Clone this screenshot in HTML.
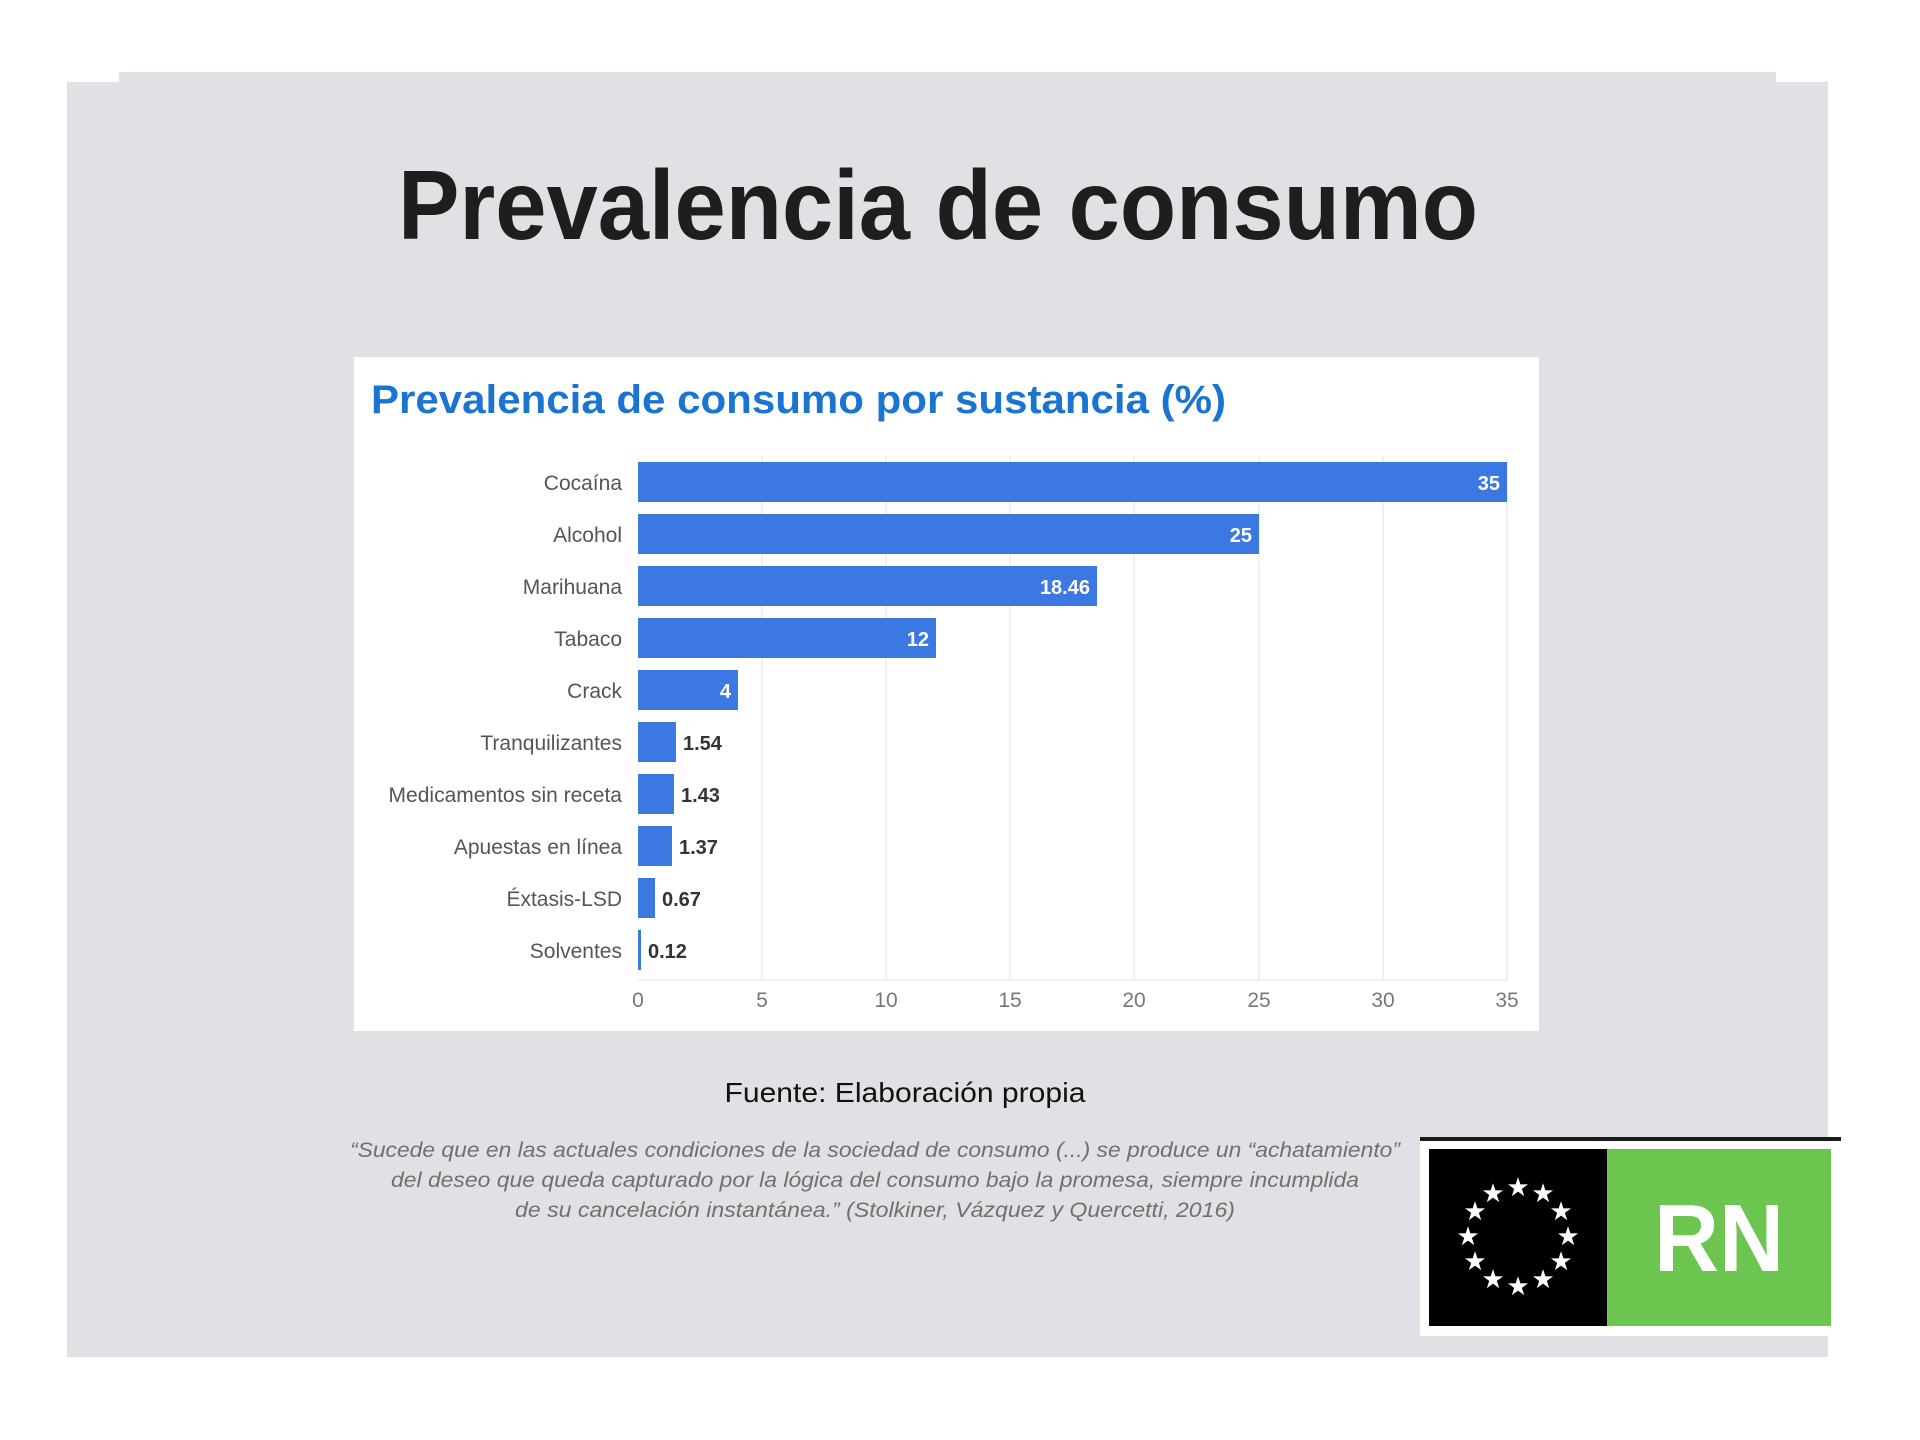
<!DOCTYPE html>
<html><head><meta charset="utf-8"><style>
html,body{margin:0;padding:0;background:#fff;}
svg{display:block;}
</style></head><body>
<svg width="1920" height="1440" viewBox="0 0 1920 1440" xmlns="http://www.w3.org/2000/svg" font-family="'Liberation Sans', sans-serif">
<rect width="1920" height="1440" fill="#fff"/>
<rect x="119" y="72" width="1657" height="14" fill="#e0e1e5"/>
<rect x="67" y="82" width="1761" height="1275" fill="#e0e1e5"/>
<text x="938" y="239" text-anchor="middle" font-size="98" font-weight="bold" fill="#1e1e1e" textLength="1080" lengthAdjust="spacingAndGlyphs">Prevalencia de consumo</text>
<rect x="354" y="357" width="1185" height="674" fill="#fff"/>
<text x="371" y="413" font-size="40" font-weight="bold" fill="#1a74d2" textLength="855" lengthAdjust="spacingAndGlyphs">Prevalencia de consumo por sustancia (%)</text>
<g stroke="#ececec" stroke-width="1.5">
<line x1="762" y1="455" x2="762" y2="980"/><line x1="886" y1="455" x2="886" y2="980"/><line x1="1010" y1="455" x2="1010" y2="980"/><line x1="1134" y1="455" x2="1134" y2="980"/><line x1="1259" y1="455" x2="1259" y2="980"/><line x1="1383" y1="455" x2="1383" y2="980"/><line x1="1507" y1="455" x2="1507" y2="980"/>
<line x1="638" y1="980" x2="1507" y2="980"/>
</g>
<g font-size="21" fill="#777" text-anchor="middle">
<text x="638" y="1007">0</text><text x="762" y="1007">5</text><text x="886" y="1007">10</text><text x="1010" y="1007">15</text><text x="1134" y="1007">20</text><text x="1259" y="1007">25</text><text x="1383" y="1007">30</text><text x="1507" y="1007">35</text>
</g>
<g fill="#3b78e1">
<rect x="638" y="462" width="869" height="40"/>
<rect x="638" y="514" width="621" height="40"/>
<rect x="638" y="566" width="459" height="40"/>
<rect x="638" y="618" width="298" height="40"/>
<rect x="638" y="670" width="100" height="40"/>
<rect x="638" y="722" width="38" height="40"/>
<rect x="638" y="774" width="36" height="40"/>
<rect x="638" y="826" width="34" height="40"/>
<rect x="638" y="878" width="17" height="40"/>
<rect x="638" y="930" width="3" height="40"/>
</g>
<g font-size="21" fill="#555" text-anchor="end">
<text x="622" y="490">Cocaína</text>
<text x="622" y="542">Alcohol</text>
<text x="622" y="594">Marihuana</text>
<text x="622" y="646">Tabaco</text>
<text x="622" y="698">Crack</text>
<text x="622" y="750">Tranquilizantes</text>
<text x="622" y="802">Medicamentos sin receta</text>
<text x="622" y="854">Apuestas en línea</text>
<text x="622" y="906">Éxtasis-LSD</text>
<text x="622" y="958">Solventes</text>
</g>
<g font-size="20" font-weight="bold" fill="#fff" text-anchor="end">
<text x="1500" y="490">35</text>
<text x="1252" y="542">25</text>
<text x="1090" y="594">18.46</text>
<text x="929" y="646">12</text>
<text x="731" y="698">4</text>
</g>
<g font-size="20" font-weight="bold" fill="#333">
<text x="683" y="750">1.54</text>
<text x="681" y="802">1.43</text>
<text x="679" y="854">1.37</text>
<text x="662" y="906">0.67</text>
<text x="648" y="958">0.12</text>
</g>
<text x="905" y="1102" text-anchor="middle" font-size="28" fill="#111" textLength="361" lengthAdjust="spacingAndGlyphs">Fuente: Elaboración propia</text>
<g font-size="21" font-style="italic" fill="#707070" text-anchor="middle">
<text x="875" y="1157" textLength="1050" lengthAdjust="spacingAndGlyphs">“Sucede que en las actuales condiciones de la sociedad de consumo (...) se produce un “achatamiento”</text>
<text x="875" y="1187" textLength="968" lengthAdjust="spacingAndGlyphs">del deseo que queda capturado por la lógica del consumo bajo la promesa, siempre incumplida</text>
<text x="875" y="1217" textLength="720" lengthAdjust="spacingAndGlyphs">de su cancelación instantánea.” (Stolkiner, Vázquez y Quercetti, 2016)</text>
</g>
<rect x="1420" y="1137" width="421" height="4" fill="#1a1a1a"/>
<rect x="1420" y="1141" width="420" height="195" fill="#fff"/>
<rect x="1429" y="1149" width="178" height="177" fill="#000"/>
<rect x="1607" y="1149" width="224" height="177" fill="#6cc54f"/>
<text x="1719" y="1271" text-anchor="middle" font-size="96" font-weight="bold" fill="#fff" textLength="130" lengthAdjust="spacingAndGlyphs">RN</text>
<g fill="#fff" font-size="26" text-anchor="middle">
<text x="1518" y="1196">★</text><text x="1543" y="1202">★</text><text x="1561" y="1220">★</text><text x="1568" y="1245">★</text><text x="1561" y="1270">★</text><text x="1543" y="1288">★</text><text x="1518" y="1295">★</text><text x="1493" y="1288">★</text><text x="1475" y="1270">★</text><text x="1468" y="1245">★</text><text x="1475" y="1220">★</text><text x="1493" y="1202">★</text>
</g>
</svg>
</body></html>
